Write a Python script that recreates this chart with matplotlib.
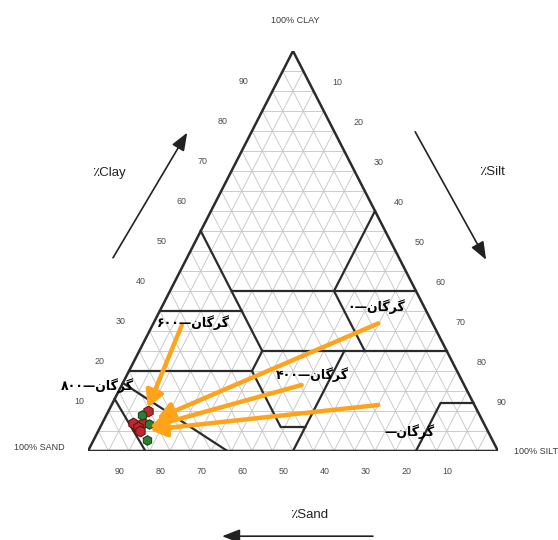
import matplotlib
matplotlib.use('Agg')
import matplotlib.pyplot as plt

# ticks along the three sides (%)
clay_ticks = [10, 20, 30, 40, 50, 60, 70, 80, 90]
silt_ticks = [10, 20, 30, 40, 50, 60, 70, 80, 90]
sand_ticks = [90, 80, 70, 60, 50, 40, 30, 20, 10]

# texture class boundaries as (sand, silt, clay) %
class_lines = [
    [(45, 0, 55), (45, 30, 25)],
    [(65, 0, 35), (45, 20, 35)],
    [(45, 15, 40), (0, 60, 40)],
    [(0, 40, 60), (20, 40, 40), (20, 55, 25)],
    [(45, 30, 25), (0, 75, 25)],
    [(45, 30, 25), (50, 30, 20), (50, 44, 6), (44, 50, 6)],
    [(80, 0, 20), (50, 30, 20)],
    [(25, 50, 25), (50, 50, 0)],
    [(83, 0, 17), (66, 34, 0)],
    [(87, 0, 13), (86, 14, 0)],
    [(20, 80, 0), (8, 80, 12), (0, 88, 12)],
]

# soil samples (silt %, clay %)
red_silt = [9.7, 7.6, 10.0, 9.2, 10.1]
red_clay = [10.1, 6.9, 7.0, 5.9, 5.1]
green_silt = [8.7, 11.6, 12.9]
green_clay = [9.0, 6.7, 2.75]

# site labels
site_names = ['گرگان—۶۰۰', 'گرگان—۸۰۰', 'گرگان—۰', 'گرگان—۴۰۰', 'گرگان—']

ORANGE = '#FFA31A'
GRID = '#c4c4c4'
EDGE = '#2b2b2b'


def tern(sand, silt, clay):
    return silt + clay / 2.0, clay


FA_FORMS = {
    'گ': ('\uFB92', '\uFB93', '\uFB94', '\uFB95'),
    'ن': ('\uFEE5', '\uFEE6', '\uFEE7', '\uFEE8'),
    'ر': ('\uFEAD', '\uFEAE', None, None),
    'ا': ('\uFE8D', '\uFE8E', None, None),
}


def fa_visual(text):
    # matplotlib does no arabic shaping, so pick joined forms by hand
    shaped = []
    for i, ch in enumerate(text):
        if ch not in FA_FORMS:
            shaped.append(ch)
            continue
        iso, fin, ini, med = FA_FORMS[ch]
        prev = text[i - 1] if i > 0 else ''
        nxt = text[i + 1] if i + 1 < len(text) else ''
        joins_prev = prev in FA_FORMS and FA_FORMS[prev][2] is not None
        joins_next = nxt in FA_FORMS and ini is not None
        if joins_prev and joins_next:
            shaped.append(med)
        elif joins_prev:
            shaped.append(fin)
        elif joins_next:
            shaped.append(ini)
        else:
            shaped.append(iso)
    # right to left, digit runs keep their order
    runs = []
    for ch in shaped:
        if ch.isdigit() and runs and runs[-1][0].isdigit():
            runs[-1] += ch
        else:
            runs.append(ch)
    return ''.join(runs[::-1])


fig = plt.figure(figsize=(5.58, 5.40), dpi=100)
ax = fig.add_axes([88 / 558, 89 / 540, 410 / 558, 400 / 540])
ax.set_xlim(0, 100)
ax.set_ylim(0, 100)
ax.axis('off')

# 5% grid
for v in range(5, 100, 5):
    x1, y1 = tern(100 - v, 0, v)
    x2, y2 = tern(0, 100 - v, v)
    ax.plot([x1, x2], [y1, y2], color=GRID, lw=0.6, zorder=1)
    x1, y1 = tern(100 - v, v, 0)
    x2, y2 = tern(0, v, 100 - v)
    ax.plot([x1, x2], [y1, y2], color=GRID, lw=0.6, zorder=1)
    x1, y1 = tern(v, 100 - v, 0)
    x2, y2 = tern(v, 0, 100 - v)
    ax.plot([x1, x2], [y1, y2], color=GRID, lw=0.6, zorder=1)

# outline
ax.plot([0, 100, 50, 0], [0, 0, 100, 0], color=EDGE, lw=1.8, zorder=3,
        solid_joinstyle='miter')

for line in class_lines:
    pts = [tern(*p) for p in line]
    ax.plot([p[0] for p in pts], [p[1] for p in pts], color=EDGE, lw=1.6,
            zorder=3)

# tick labels
tick_kw = dict(fontsize=6.4, color='#4a4a4a', ha='center', va='center',
               family=['Liberation Sans'])
for c in clay_ticks:
    x, y = tern(100 - c, 0, c)
    ax.text(x - 7.1, y + 2.5, str(c), **tick_kw)
for s in silt_ticks:
    x, y = tern(0, s, 100 - s)
    ax.text(x + 5.9, y + 2.1, str(s), **tick_kw)
for s in sand_ticks:
    x, y = tern(s, 100 - s, 0)
    ax.text(x - 2.3, y - 5.2, str(s), **tick_kw)

corner_kw = dict(fontsize=6.5, color='#3a3a3a', va='center',
                 family=['Liberation Sans'])
ax.text(50.5, 107.6, '100% CLAY', ha='center', **corner_kw)
ax.text(-11.8, 1.0, '100% SAND', ha='center', **corner_kw)
ax.text(103.8, 0.0, '100% SILT', ha='left', **corner_kw)

# axis names with direction arrows
name_kw = dict(fontsize=9.5, color='#222222', ha='center', va='center',
               family=['Liberation Sans', 'DejaVu Sans'])
ax.text(5.1, 69.6, '٪Clay', **name_kw)
ax.text(98.5, 69.8, '٪Silt', **name_kw)
ax.text(54.0, -16.0, '٪Sand', **name_kw)

black_arrow = dict(arrowstyle='-|>,head_length=0.9,head_width=0.35',
                   color='#222222', lw=1.2, mutation_scale=12,
                   shrinkA=0, shrinkB=0)
ax.annotate('', xy=(24.2, 79.6), xytext=(6.1, 48.3),
            arrowprops=black_arrow, annotation_clip=False)
ax.annotate('', xy=(97.1, 47.8), xytext=(79.8, 79.8),
            arrowprops=black_arrow, annotation_clip=False)
ax.annotate('', xy=(32.7, -21.3), xytext=(69.5, -21.3),
            arrowprops=black_arrow, annotation_clip=False)

# samples
rx = [tern(100 - s - c, s, c)[0] for s, c in zip(red_silt, red_clay)]
ry = [tern(100 - s - c, s, c)[1] for s, c in zip(red_silt, red_clay)]
gx = [tern(100 - s - c, s, c)[0] for s, c in zip(green_silt, green_clay)]
gy = [tern(100 - s - c, s, c)[1] for s, c in zip(green_silt, green_clay)]
ax.scatter(rx, ry, marker='h', s=60, color='#c0272d', edgecolors='#5a0d0d',
           linewidths=0.7, zorder=5)
ax.scatter(gx, gy, marker='h', s=48, color='#2e7d32', edgecolors='#103a12',
           linewidths=0.7, zorder=5)

# site labels and orange arrows
label_pos = [(25.7, 32.0), (2.2, 16.3), (70.2, 36.0), (54.6, 19.0), (78.5, 4.8)]
for name, (x, y) in zip(site_names, label_pos):
    ax.text(x, y, fa_visual(name), fontsize=9, fontweight='bold',
            color='black', ha='center', va='center', family=['DejaVu Sans'],
            zorder=7)

orange_arrow = dict(arrowstyle='-|>,head_length=1.1,head_width=0.6',
                    color=ORANGE, lw=3.2, mutation_scale=9,
                    shrinkA=0, shrinkB=0)
arrow_from = [(22.9, 31.5), (70.8, 31.9), (52.1, 16.5), (70.8, 11.5)]
arrow_to = [(14.6, 10.8), (16.8, 8.1), (15.1, 6.0), (15.1, 5.3)]
for a, b in zip(arrow_from, arrow_to):
    ax.annotate('', xy=b, xytext=a, arrowprops=orange_arrow, zorder=6)

fig.savefig('out.png', dpi=100)
